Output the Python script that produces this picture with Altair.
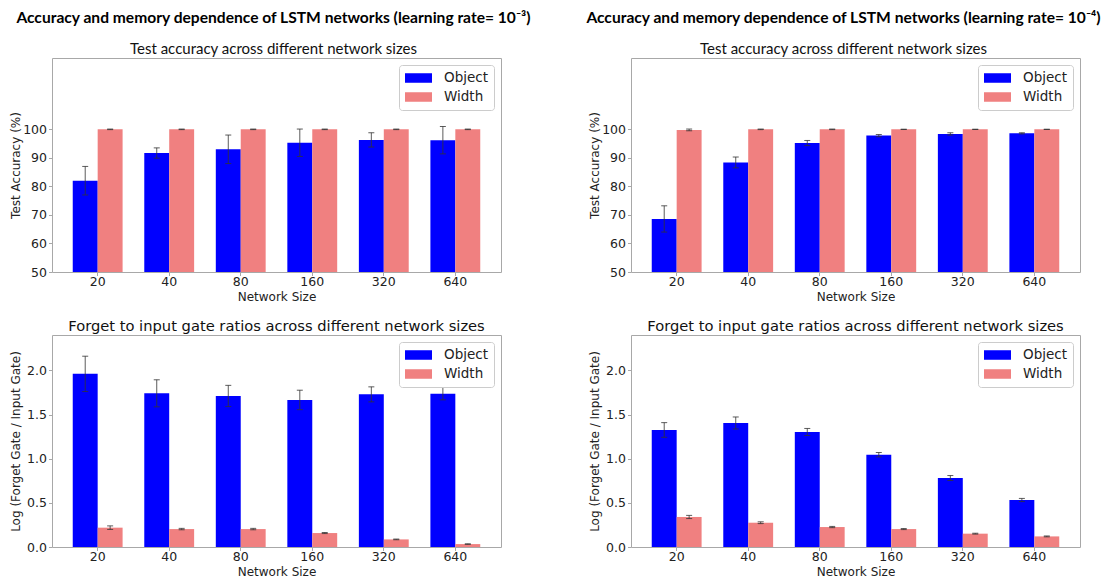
import altair as alt
import pandas as pd

sizes = ["20", "40", "80", "160", "320", "640"]
series = ["Object", "Width"]

# learning rate 1e-3
acc_obj_lr3 = [82.0, 91.7, 93.0, 95.3, 96.3, 96.2]
acc_obj_lr3_err = [5.0, 1.8, 5.0, 4.8, 2.5, 4.8]
acc_wid_lr3 = [100.0, 100.0, 100.0, 100.0, 100.0, 100.0]
acc_wid_lr3_err = [0.1, 0.1, 0.1, 0.1, 0.1, 0.1]
gate_obj_lr3 = [1.96, 1.74, 1.71, 1.665, 1.728, 1.736]
gate_obj_lr3_err = [0.2, 0.153, 0.12, 0.11, 0.085, 0.07]
gate_wid_lr3 = [0.219, 0.203, 0.203, 0.158, 0.086, 0.033]
gate_wid_lr3_err = [0.02, 0.008, 0.008, 0.006, 0.004, 0.003]

# learning rate 1e-4
acc_obj_lr4 = [68.6, 88.4, 95.2, 97.8, 98.4, 98.6]
acc_obj_lr4_err = [4.6, 1.9, 0.9, 0.4, 0.4, 0.2]
acc_wid_lr4 = [99.8, 100.0, 100.0, 100.0, 100.0, 100.0]
acc_wid_lr4_err = [0.3, 0.1, 0.1, 0.05, 0.05, 0.05]
gate_obj_lr4 = [1.325, 1.404, 1.302, 1.045, 0.781, 0.532]
gate_obj_lr4_err = [0.083, 0.068, 0.04, 0.025, 0.028, 0.018]
gate_wid_lr4 = [0.340, 0.275, 0.226, 0.203, 0.151, 0.12]
gate_wid_lr4_err = [0.018, 0.01, 0.007, 0.006, 0.005, 0.005]

acc_ticks = [50, 60, 70, 80, 90, 100]
gate_ticks = [0.0, 0.5, 1.0, 1.5, 2.0]

suptitle_lr3 = "Accuracy and memory dependence of LSTM networks (learning rate= 10\u207b\u00b3)"
suptitle_lr4 = "Accuracy and memory dependence of LSTM networks (learning rate= 10\u207b\u2074)"
acc_title = "Test accuracy across different network sizes"
gate_title = "Forget to input gate ratios across different network sizes"

ERR = "#333333"
FONT = "DejaVu Sans"
PW = 449


def make_df(obj, obj_err, wid, wid_err):
    rows = []
    for s, v, e in zip(sizes, obj, obj_err):
        rows.append({"size": s, "series": "Object", "value": v, "lo": v - e, "hi": v + e})
    for s, v, e in zip(sizes, wid, wid_err):
        rows.append({"size": s, "series": "Width", "value": v, "lo": v - e, "hi": v + e})
    return pd.DataFrame(rows)


def panel(df, ydomain, yticks, yformat, ytitle, title, ph):
    base = alt.Chart(df)
    x = alt.X("size:N", sort=sizes,
              scale=alt.Scale(paddingInner=0.303, paddingOuter=0.29),
              axis=alt.Axis(title="Network Size", labelAngle=0))
    xo = alt.XOffset("series:N", sort=series,
                     scale=alt.Scale(paddingInner=0, paddingOuter=0))

    def yenc(field):
        return alt.Y(field, type="quantitative",
                     scale=alt.Scale(domain=ydomain, nice=False, zero=False),
                     axis=alt.Axis(values=yticks, format=yformat, title=ytitle))

    color = alt.Color("series:N", sort=series,
                      scale=alt.Scale(domain=series, range=["#0000ff", "#f08080"]),
                      legend=alt.Legend(title=None, orient="top-right", offset=7,
                                        fillColor="white", strokeColor="#cccccc",
                                        cornerRadius=3, padding=6,
                                        symbolType="M-1,-0.68H2.86V0.68H-1Z",
                                        symbolSize=196, symbolStrokeWidth=0,
                                        labelFont=FONT, labelFontSize=13.5,
                                        labelColor="#222222", labelOffset=25,
                                        rowPadding=5))
    bars = base.mark_bar(clip=True).encode(x=x, xOffset=xo, y=yenc("value"), color=color)
    err = base.mark_rule(color=ERR, opacity=0.8).encode(
        x=x, xOffset=xo, y=yenc("lo"), y2="hi:Q")
    cap_lo = base.mark_tick(color=ERR, size=6, thickness=1, opacity=0.8).encode(
        x=x, xOffset=xo, y=yenc("lo"))
    cap_hi = base.mark_tick(color=ERR, size=6, thickness=1, opacity=0.8).encode(
        x=x, xOffset=xo, y=yenc("hi"))
    return alt.layer(bars, err, cap_lo, cap_hi).properties(
        width=PW, height=ph, title=title)


def top_title(sup, dx):
    return alt.TitleParams(sup, font="Lato", fontSize=15.6, fontWeight="bold",
                           color="#000000", anchor="middle", frame="group", dx=dx,
                           subtitle=acc_title, subtitleFont="Lato", subtitleFontSize=15,
                           subtitleFontWeight="normal", subtitleColor="#111111",
                           subtitlePadding=15, offset=1)


gate_title_params = alt.TitleParams(gate_title, font=FONT, fontSize=14.7,
                                    fontWeight="normal", color="#111111",
                                    anchor="middle", frame="group", offset=1)

tl = panel(make_df(acc_obj_lr3, acc_obj_lr3_err, acc_wid_lr3, acc_wid_lr3_err),
           [50, 125], acc_ticks, "d", "Test Accuracy (%)", top_title(suptitle_lr3, -3), 214)
bl = panel(make_df(gate_obj_lr3, gate_obj_lr3_err, gate_wid_lr3, gate_wid_lr3_err),
           [0, 2.4], gate_ticks, ".1f", "Log (Forget Gate / Input Gate)", gate_title_params, 212)
tr = panel(make_df(acc_obj_lr4, acc_obj_lr4_err, acc_wid_lr4, acc_wid_lr4_err),
           [50, 125], acc_ticks, "d", "Test Accuracy (%)", top_title(suptitle_lr4, -12), 214)
br = panel(make_df(gate_obj_lr4, gate_obj_lr4_err, gate_wid_lr4, gate_wid_lr4_err),
           [0, 2.4], gate_ticks, ".1f", "Log (Forget Gate / Input Gate)", gate_title_params, 212)

chart = alt.concat(tl, tr, bl, br, columns=2, bounds="flush",
                   spacing={"row": 63, "column": 130}).resolve_scale(
    color="independent", x="independent", y="independent").resolve_legend(
    color="independent").properties(
    padding={"left": 0, "top": 2, "right": 0, "bottom": 0}
).configure_view(stroke="#a8a8a8", strokeWidth=1).configure_axis(
    labelFont=FONT, labelFontSize=12.5, labelColor="#222222",
    titleFont=FONT, titleFontSize=12, titleFontWeight="normal", titleColor="#222222",
    tickSize=3.5, tickColor="#a8a8a8", domain=False, grid=False
).configure_axisY(
    labelPadding=2, titlePadding=2, minExtent=28, maxExtent=28
).configure_axisX(
    labelPadding=0, titlePadding=3
)

chart.save("out.html", embed_options={"renderer": "svg", "actions": False})
